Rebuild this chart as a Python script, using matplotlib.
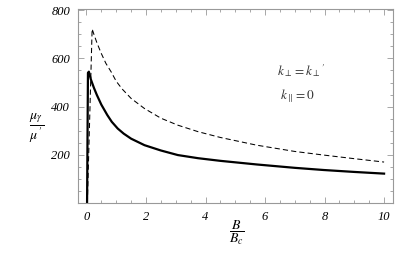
import matplotlib
matplotlib.use("Agg")
import matplotlib.pyplot as plt
from matplotlib.ticker import MultipleLocator

plt.rcParams['mathtext.fontset'] = 'stix'
plt.rcParams['font.family'] = 'Liberation Serif'

# solid curve
b_solid = [0.02, 0.05, 0.08, 0.15, 0.25, 0.35, 0.5, 0.7, 0.85, 1.05, 1.25, 1.5,
           1.95, 2.5, 3.07, 3.75, 4.5, 5.72, 7.0, 7.97, 9.0, 10.0]
mu_solid = [0, 540, 545, 512, 478, 448, 408, 365, 337, 309, 288, 267,
            240, 218, 199, 186, 175, 160, 146, 137, 129, 122]

# dashed curve
b_dash = [0.03, 0.19, 0.25, 0.35, 0.5, 0.65, 0.83, 1.0, 1.2, 1.5, 1.95, 2.5,
          3.07, 3.75, 4.5, 5.72, 7.0, 7.97, 9.0, 10.0]
mu_dash = [0, 722, 700, 665, 620, 580, 544, 505, 473, 434, 392, 352,
           323, 296, 272, 240, 214, 199, 184, 170]

x_ticks = [0, 2, 4, 6, 8, 10]
y_ticks = [200, 400, 600, 800]

fig = plt.figure(figsize=(4.15, 2.57), dpi=100)
ax = fig.add_axes([0.189, 0.21, 0.758, 0.755])

ax.plot(b_solid, mu_solid, color='black', linewidth=1.6)
ax.plot(b_dash, mu_dash, color='black', linewidth=0.75, dashes=(5, 3))

ax.set_xlim(-0.27, 10.3)
ax.set_ylim(0, 805)
ax.set_xticks(x_ticks)
ax.set_yticks(y_ticks)
ax.xaxis.set_minor_locator(MultipleLocator(0.5))
ax.yaxis.set_minor_locator(MultipleLocator(50))

for s in ax.spines.values():
    s.set_color('#999999')
    s.set_linewidth(0.8)
ax.tick_params(which='both', direction='in', top=True, right=True,
               color='#999999', width=0.6)
ax.tick_params(which='major', length=4, labelsize=9, pad=6)
ax.tick_params(which='minor', length=2)
for lab in ax.get_xticklabels() + ax.get_yticklabels():
    lab.set_fontstyle('italic')

fig.text(37 / 415, 1 - 128 / 257, r"$\dfrac{\mu_\gamma}{\mu^{\,\prime}}$",
         fontsize=10, ha='center', va='center')
fig.text(237 / 415, 1 - 233 / 257, r"$\dfrac{B}{B_c}$",
         fontsize=10, ha='center', va='center')

ax.text(0.63, 0.685, r"$k_{\perp}=k_{\perp}{}^{\prime}$", transform=ax.transAxes,
        fontsize=9.5, color='#333333', ha='left', va='center')
ax.text(0.64, 0.55, r"$k_{\parallel}=0$", transform=ax.transAxes,
        fontsize=9.5, color='#333333', ha='left', va='center')

fig.savefig("out.png", dpi=100)
